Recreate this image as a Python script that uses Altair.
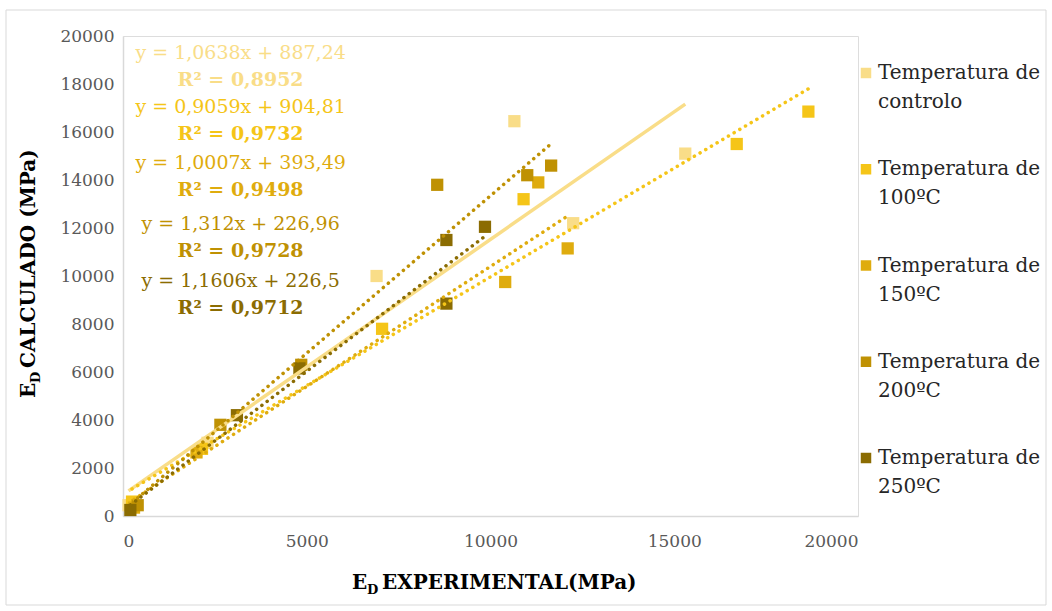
import altair as alt
import pandas as pd

FONT = "DejaVu Serif"

series = ["Temperatura de controlo", "Temperatura de 100ºC", "Temperatura de 150ºC",
          "Temperatura de 200ºC", "Temperatura de 250ºC"]
legend_line1 = ["Temperatura de"] * 5
legend_line2 = ["controlo", "100ºC", "150ºC", "200ºC", "250ºC"]
colors = ["#F9DD88", "#F5C518", "#DFAC0E", "#BF9103", "#8B6C02"]

ctrl_x = [150, 2300, 6900, 10650, 12250, 15300]
ctrl_y = [450, 3050, 10000, 16450, 12200, 15100]
t100_x = [245, 2150, 7050, 10900, 16700, 18650]
t100_y = [600, 2800, 7800, 13200, 15500, 16850]
t150_x = [300, 2000, 10400, 11300, 12100]
t150_y = [350, 2650, 9750, 13900, 11150]
t200_x = [400, 2650, 4850, 8550, 11000, 11650]
t200_y = [450, 3800, 6300, 13800, 14200, 14600]
t250_x = [200, 3100, 4800, 8800, 8800, 9850]
t250_y = [250, 4200, 6150, 8850, 11500, 12050]

slopes = [1.0638, 0.9059, 1.0007, 1.312, 1.1606]
intercepts = [887.24, 904.81, 393.49, 226.96, 226.5]
equations = ["y = 1,0638x + 887,24", "y = 0,9059x + 904,81", "y = 1,0007x + 393,49",
             "y = 1,312x + 226,96", "y = 1,1606x + 226,5"]
r2_labels = ["R² = 0,8952", "R² = 0,9732", "R² = 0,9498", "R² = 0,9728", "R² = 0,9712"]

# label anchor positions (data units)
eq_label_x = 3200
eq_label_y = [19290, 17040, 14710, 12170, 9790]
r2_label_y = [18170, 15920, 13580, 11040, 8670]

xs_all = [ctrl_x, t100_x, t150_x, t200_x, t250_x]
ys_all = [ctrl_y, t100_y, t150_y, t200_y, t250_y]

rows = []
for s, c, xs, ys in zip(series, colors, xs_all, ys_all):
    for x, y in zip(xs, ys):
        rows.append({"series": s, "col": c, "x": x, "y": y})
points = pd.DataFrame(rows)

line_rows = []
for i, (s, c, xs, m, b) in enumerate(zip(series, colors, xs_all, slopes, intercepts)):
    for x in (min(xs), max(xs)):
        line_rows.append({"series": s, "col": c, "x": x, "y": m * x + b, "solid": i == 0})
lines = pd.DataFrame(line_rows)

labels = pd.DataFrame({"eq": equations, "r2": r2_labels, "col": colors,
                       "tx": [eq_label_x] * 5, "ey": eq_label_y, "ry": r2_label_y})

legend_df = pd.DataFrame({"l1": legend_line1, "l2": legend_line2, "col": colors,
                          "i": list(range(5))})

x_scale = alt.Scale(domain=[0, 20000], nice=False, zero=False)
y_scale = alt.Scale(domain=[0, 20000], nice=False, zero=False)

x_axis = alt.Axis(values=[0, 5000, 10000, 15000, 20000], format="d", title=None, grid=False,
                  ticks=False, domainColor="#D9D9D9", domainWidth=1.5, labelFont=FONT,
                  labelFontSize=17, labelColor="#595959", labelPadding=17)
y_axis = alt.Axis(values=list(range(0, 20001, 2000)), format="d", title=None, grid=False,
                  ticks=False, domainColor="#D9D9D9", domainWidth=1.5, labelFont=FONT,
                  labelFontSize=17, labelColor="#595959", labelPadding=9)

X = alt.X("x:Q", scale=x_scale, axis=x_axis)
Y = alt.Y("y:Q", scale=y_scale, axis=y_axis)
C = alt.Color("col:N", scale=None)

pts = alt.Chart(points).mark_square(size=150, opacity=1).encode(x=X, y=Y, color=C)

solid = alt.Chart(lines[lines["solid"]]).mark_line(strokeWidth=3.5).encode(
    x="x:Q", y="y:Q", color=C, detail="series:N")
dotted = alt.Chart(lines[~lines["solid"]]).mark_line(
    strokeWidth=3.5, strokeDash=[0.1, 6.5], strokeCap="round").encode(
    x="x:Q", y="y:Q", color=C, detail="series:N")

eq_text = alt.Chart(labels).mark_text(font=FONT, fontSize=19, align="center", baseline="middle").encode(
    x="tx:Q", y="ey:Q", text="eq:N", color=C)
r2_text = alt.Chart(labels).mark_text(font=FONT, fontSize=19, fontWeight="bold", align="center",
                                      baseline="middle").encode(
    x="tx:Q", y="ry:Q", text="r2:N", color=C)

leg_sq = alt.Chart(legend_df).transform_calculate(ly="37 + datum.i * 96.25").mark_square(
    size=110, opacity=1).encode(
    x=alt.value(743), y=alt.Y("ly:Q", scale=None, axis=None), color=C)
leg_t1 = alt.Chart(legend_df).transform_calculate(ly="37 + datum.i * 96.25").mark_text(
    font=FONT, fontSize=20, align="left", baseline="middle", color="#262626").encode(
    x=alt.value(755), y=alt.Y("ly:Q", scale=None, axis=None), text="l1:N")
leg_t2 = alt.Chart(legend_df).transform_calculate(ly="66 + datum.i * 96.25").mark_text(
    font=FONT, fontSize=20, align="left", baseline="middle", color="#262626").encode(
    x=alt.value(755), y=alt.Y("ly:Q", scale=None, axis=None), text="l2:N")

one = pd.DataFrame({"a": [0]})
TB = dict(font=FONT, fontWeight="bold", color="#000000")
xt_E = alt.Chart(one).mark_text(text="E", fontSize=20, align="left", baseline="alphabetic", **TB).encode(
    x=alt.value(229), y=alt.value(553))
xt_D = alt.Chart(one).mark_text(text="D", fontSize=13, align="left", baseline="alphabetic", **TB).encode(
    x=alt.value(244), y=alt.value(558))
xt_rest = alt.Chart(one).mark_text(text="EXPERIMENTAL(MPa)", fontSize=20, align="left",
                                   baseline="alphabetic", **TB).encode(
    x=alt.value(259), y=alt.value(553))

yt_E = alt.Chart(one).mark_text(text="E", fontSize=20, align="left", baseline="alphabetic", angle=270, **TB).encode(
    x=alt.value(-88), y=alt.value(362))
yt_D = alt.Chart(one).mark_text(text="D", fontSize=13, align="left", baseline="alphabetic", angle=270, **TB).encode(
    x=alt.value(-83), y=alt.value(347))
yt_rest = alt.Chart(one).mark_text(text="CALCULADO (MPa)", fontSize=20, align="left",
                                   baseline="alphabetic", angle=270, **TB).encode(
    x=alt.value(-88), y=alt.value(332))

border = alt.Chart(one).mark_rect(fillOpacity=0, stroke="#D9D9D9", strokeWidth=1).encode(
    x=alt.value(-117), x2=alt.value(923), y=alt.value(-26), y2=alt.value(569))

chart = alt.layer(
    border, pts, solid, dotted, eq_text, r2_text, leg_sq, leg_t1, leg_t2,
    xt_E, xt_D, xt_rest, yt_E, yt_D, yt_rest
).properties(
    width=735, height=480,
    autosize=alt.AutoSizeParams(type="none"),
    padding={"left": 123, "top": 36, "right": 194, "bottom": 95},
).configure_view(stroke=None).configure(background="white")

chart.save("out.html", embed_options={"renderer": "svg", "actions": False})
